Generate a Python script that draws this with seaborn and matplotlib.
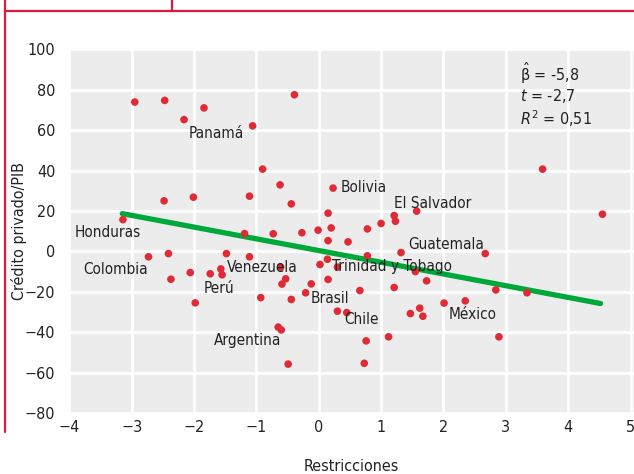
import numpy as np
import pandas as pd
import seaborn as sns
import matplotlib.pyplot as plt
from matplotlib.lines import Line2D
from matplotlib import font_manager

# ---------- DATA
restricciones = [-2.95, -2.47, -2.16, -1.84, -1.06, -0.90, -2.48, -2.01, -1.11, -3.14,
                 -1.19, -0.39, -0.62, 0.23, -0.44, 0.15, 1.21, 1.57, 1.00, 1.23,
                 0.78, 0.20, -0.01, -0.27, -0.73, 0.15, 0.47, 3.59, 4.55, -2.73,
                 -2.41, -1.48, -1.11, -2.06, -2.37, -1.74, -1.57, -1.55, -1.98, -0.93,
                 0.78, 1.32, 0.14, 0.02, 0.30, -0.61, -0.53, -0.59, -0.12, 0.15,
                 1.55, 1.73, 1.21, 0.66, -0.21, -0.44, 0.30, 0.45, 1.47, 1.62,
                 1.67, 2.01, 2.35, -0.65, -0.60, 0.76, 1.12, -0.49, 0.73, 2.67,
                 2.84, 3.34, 2.89]
credito = [73.9, 74.7, 65.2, 71.0, 62.1, 40.7, 25.0, 26.8, 27.3, 15.7,
           8.8, 77.5, 32.9, 31.3, 23.5, 18.9, 17.7, 19.9, 13.8, 14.9,
           11.1, 11.6, 10.5, 9.2, 8.7, 5.3, 4.7, 40.7, 18.4, -2.7,
           -1.1, -1.1, -2.7, -10.5, -13.8, -11.1, -8.7, -11.6, -25.5, -22.9,
           -2.2, -0.6, -3.9, -6.5, -7.8, -7.8, -13.6, -16.2, -16.1, -13.9,
           -10.0, -14.6, -17.9, -19.4, -20.5, -23.8, -29.6, -30.3, -30.8, -28.1,
           -32.1, -25.6, -24.5, -37.5, -38.9, -44.3, -42.3, -55.8, -55.4, -1.1,
           -19.1, -20.5, -42.3]

paises = ["Panamá", "Honduras", "Colombia", "Venezuela", "Perú", "Argentina",
          "Brasil", "Chile", "Trinidad y Tobago", "Guatemala", "México",
          "Bolivia", "El Salvador"]
pais_x = [-2.09, -3.91, -3.77, -1.48, -1.84, -1.68, -0.13, 0.41, 0.21, 1.44, 2.09, 0.35, 1.21]
pais_y = [58.5, 9.2, -9.2, -8.0, -18.6, -44.3, -23.5, -33.9, -7.5, 3.2, -31.4, 31.6, 23.5]

# regression line
beta, intercepto = -5.8, 0.4
linea_x = [-3.15, 4.52]

df = pd.DataFrame({"Restricciones": restricciones, "Credito": credito})
df_line = pd.DataFrame({"x": linea_x})
df_line["y"] = intercepto + beta * df_line["x"]

# ---------- PLOTTING
sns.set_style("whitegrid", {"axes.facecolor": "#ececec", "grid.color": "white"})
names = {f.name for f in font_manager.fontManager.ttflist}
if "DejaVu Sans Condensed" in names:
    plt.rcParams["font.family"] = ["DejaVu Sans Condensed", "DejaVu Sans"]
else:
    plt.rcParams["font.family"] = ["DejaVu Sans"]
    plt.rcParams["font.stretch"] = "condensed"
fs = 11.5
tc = "#222222"

fig = plt.figure(figsize=(6.34, 4.74), dpi=100)
ax = fig.add_axes([0.1093, 0.1287, 0.8907, 0.7673])

sns.lineplot(data=df_line, x="x", y="y", color="#00a83a", linewidth=3.8,
             solid_capstyle="round", ax=ax, zorder=3)
sns.scatterplot(data=df, x="Restricciones", y="Credito", color="#e02a35",
                s=30, edgecolor="none", ax=ax, zorder=4)

for name, px, py in zip(paises, pais_x, pais_y):
    ax.text(px, py, name, fontsize=11, color=tc, va="center", ha="left", zorder=5)

ax.text(3.22, 87.9, r"$\hat{\mathrm{\beta}}$ = -5,8", fontsize=fs, color=tc, va="center")
ax.text(3.22, 76.8, r"$t$ = -2,7", fontsize=fs, color=tc, va="center")
ax.text(3.22, 65.6, r"$R^{\mathrm{2}}$ = 0,51", fontsize=fs, color=tc, va="center")

ax.set_xlim(-4, 5.056)
ax.set_ylim(-80, 100)
ax.set_xticks(range(-4, 6))
ax.set_yticks(range(-80, 101, 20))
ax.grid(True, color="white", linewidth=2)
ax.set_axisbelow(True)
for s in ax.spines.values():
    s.set_visible(False)
ax.tick_params(axis="both", length=0, labelsize=fs, colors=tc)
ax.tick_params(axis="x", pad=5)
ax.tick_params(axis="y", pad=10)
ax.set_xlabel("Restricciones", fontsize=fs, color=tc, labelpad=17)
ax.set_ylabel("Crédito privado/PIB", fontsize=fs, color=tc)
ax.yaxis.set_label_coords(-0.075, 0.5)

# red frame from the page layout
red = "#e3173e"
fig.add_artist(Line2D([5 / 634, 5 / 634], [1, 1 - 432 / 474], color=red, linewidth=1.6))
fig.add_artist(Line2D([5 / 634, 1], [1 - 11 / 474, 1 - 11 / 474], color=red, linewidth=1.6))
fig.add_artist(Line2D([172 / 634, 172 / 634], [1, 1 - 11 / 474], color=red, linewidth=1.6))

plt.savefig("out.png", dpi=100)
